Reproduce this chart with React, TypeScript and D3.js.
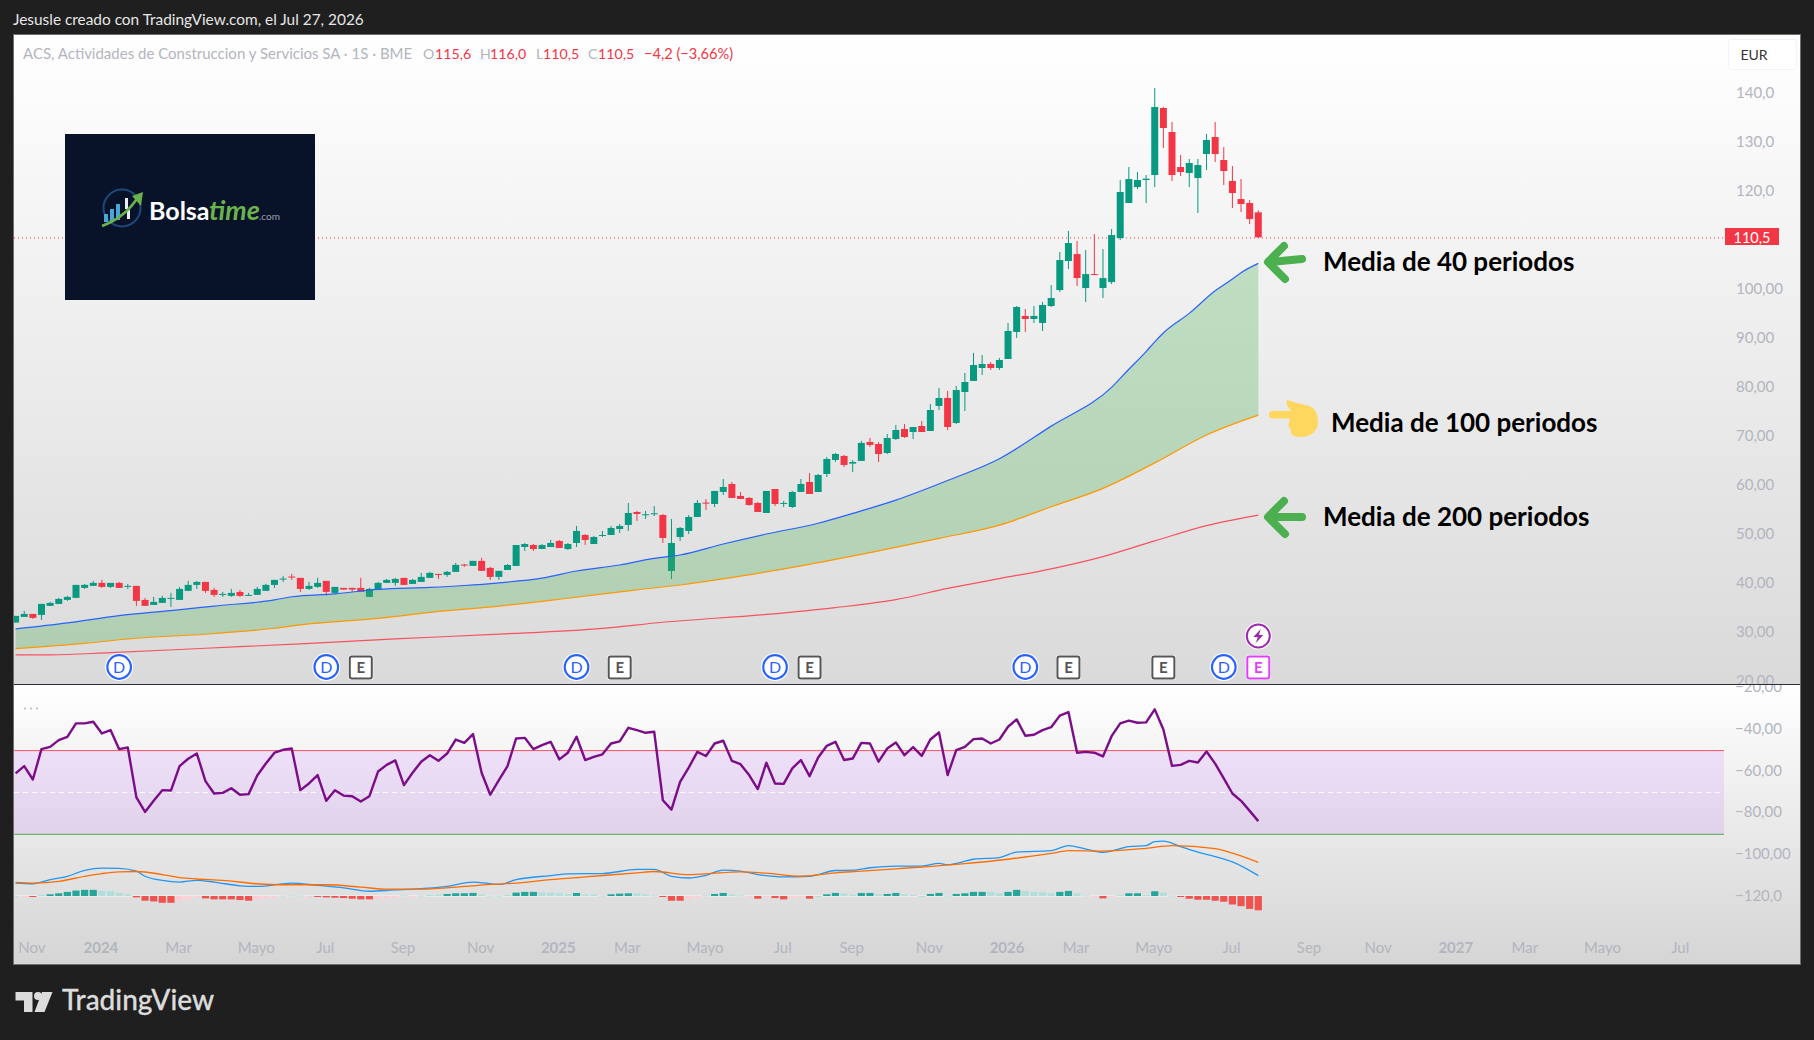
import React from "react";
import * as d3 from "d3";

const FONT = "Lato, 'Open Sans', sans-serif";

const candleOpen = [31.94,33.09,33.70,33.50,35.34,35.74,36.56,36.97,39.01,39.42,40.03,39.21,40.03,39.28,39.42,36.56,35.54,35.95,36.83,36.56,38.40,39.62,40.23,38.60,37.65,37.38,38.19,37.44,37.58,38.40,39.62,40.78,41.32,41.05,38.80,39.21,40.44,37.99,39.01,39.01,39.01,37.17,38.60,40.03,40.03,41.05,39.82,40.23,41.05,41.86,41.66,42.27,43.77,43.50,44.52,43.09,41.25,42.66,43.48,47.35,47.76,46.94,47.35,48.58,46.94,48.17,49.80,47.96,49.60,49.80,51.02,51.84,54.49,53.88,54.02,53.88,42.46,49.39,50.62,53.47,56.40,56.12,58.57,60.20,57.76,57.35,56.33,54.29,59.18,56.19,55.51,58.57,60.61,58.57,62.24,65.10,65.92,64.35,64.90,68.77,68.35,66.52,69.37,71.41,70.80,72.03,71.01,76.11,77.74,72.64,78.96,81.21,83.86,84.67,83.86,85.69,91.20,94.47,93.85,93.04,96.49,99.75,105.67,107.09,100.16,103.01,100.16,101.38,110.36,117.50,120.76,122.19,123.21,136.88,131.98,124.84,123.62,122.60,127.49,130.96,126.27,121.99,118.31,117.50,115.6];
const candleHigh = [33.30,34.32,33.70,35.74,36.15,36.97,37.38,39.62,39.82,40.44,40.64,40.03,40.23,39.82,39.42,36.97,37.17,37.38,37.99,39.21,40.44,40.44,40.23,39.01,38.19,38.80,38.60,37.99,39.21,39.82,40.64,41.46,41.86,41.05,40.23,41.05,40.44,39.21,39.01,39.01,41.05,39.01,40.23,40.84,41.05,41.05,40.84,42.07,42.27,41.86,42.48,44.11,43.90,44.52,45.13,43.29,42.48,43.88,47.76,48.17,47.96,47.96,48.78,48.78,48.17,51.64,50.00,49.60,50.62,51.64,52.04,56.33,54.70,54.70,55.72,54.08,53.06,51.43,53.88,56.94,57.14,58.78,61.22,60.61,58.57,57.55,56.53,58.78,59.18,56.74,58.78,61.22,62.45,62.24,65.71,66.53,66.12,65.10,68.98,69.59,68.76,70.39,72.23,72.43,71.82,73.05,76.51,79.78,79.17,80.19,82.84,86.92,86.51,85.08,85.90,93.04,96.51,95.89,96.51,97.32,100.77,107.50,111.79,109.75,107.91,111.17,108.11,112.19,122.19,124.84,123.82,123.21,140.96,137.08,134.02,127.29,126.47,126.47,131.57,134.02,128.92,125.05,122.39,118.11,116.0];
const candleLow = [31.94,33.09,32.68,32.48,35.34,35.74,36.36,36.97,38.80,39.42,39.01,39.01,39.01,38.80,35.34,35.34,35.54,35.95,35.13,36.56,38.40,38.80,37.99,37.17,37.17,37.17,37.17,37.38,37.58,38.40,39.01,40.23,40.64,38.19,38.60,39.01,37.38,37.78,38.67,38.19,38.19,37.17,38.60,40.03,39.42,39.62,39.82,40.23,41.05,40.84,41.25,42.27,43.29,43.50,42.48,40.64,40.64,42.66,43.48,46.54,46.54,46.94,47.35,47.15,46.74,47.35,47.76,47.96,49.39,49.80,50.21,50.62,52.66,53.06,53.68,48.17,40.82,48.58,50.00,53.47,54.90,55.51,57.96,57.35,57.14,55.72,54.49,54.29,55.72,55.51,55.31,58.57,58.16,58.57,61.63,64.69,63.67,62.65,64.90,67.75,64.68,66.31,69.17,69.58,69.37,70.80,71.01,75.29,71.21,72.43,75.09,81.21,82.43,83.45,83.45,85.69,89.98,91.20,93.04,91.41,96.28,99.34,104.03,100.57,97.30,102.81,98.12,100.97,109.95,117.50,120.35,117.50,120.76,128.72,121.99,123.01,120.76,115.46,124.23,125.86,121.17,116.48,115.66,113.21,110.5];
const candleClose = [33.30,33.70,32.89,35.74,35.95,36.76,37.17,39.62,39.62,40.03,39.21,40.03,39.01,39.42,36.36,35.34,36.15,36.97,36.97,38.80,39.62,40.23,38.40,37.58,37.78,37.99,37.38,37.58,38.80,39.62,40.64,40.91,41.18,38.80,39.42,40.03,38.19,39.21,38.67,38.67,38.19,38.80,40.03,40.64,40.84,39.62,40.64,41.25,42.07,41.73,42.27,43.70,43.56,44.52,42.48,41.25,42.48,43.68,47.76,47.96,46.94,47.76,48.17,47.15,47.96,50.62,48.78,49.39,49.80,51.23,51.64,54.29,54.08,54.02,54.22,49.19,48.17,51.23,53.47,56.33,56.19,58.78,59.59,57.35,57.14,55.92,54.49,58.78,56.12,56.33,58.57,60.20,58.16,62.04,65.30,66.32,64.08,64.69,68.57,68.16,66.31,69.58,71.21,69.78,71.82,70.80,75.29,77.74,71.82,79.37,81.00,84.47,84.67,83.86,85.49,91.41,96.30,93.85,94.47,96.71,98.12,105.87,109.34,102.20,103.01,102.81,102.20,110.97,119.74,122.39,122.19,122.46,137.08,132.80,123.21,123.82,125.66,125.25,130.35,127.49,124.03,119.54,117.29,114.23,110.5];

const ma40Bars = [0,6,12,18,23,30,32,37,42,48,52,56,61,65,70,74,77,82,87,93,97,102,108,114,120,127,129,131,132,133,136,139,141,142,144];
const ma40Vals = [30.64,31.87,33.36,34.38,35.3,36.56,37.2,37.8,38.7,39.1,39.5,40.05,41.0,42.46,43.68,45.04,45.72,47.96,50.0,52.2,54.2,56.9,60.9,65.35,72.0,79.9,83.6,87.2,89.2,91.0,95.0,99.6,102.0,103.3,105.2];
const ma100Bars = [0,8,14,22,30,33,42,48,56,64,72,77,84,91,99,107,114,120,126,132,138,144];
const ma100Vals = [26.63,27.7,28.74,29.56,30.78,31.46,32.8,34.0,35.3,36.9,38.6,39.6,41.4,43.5,46.2,49.1,51.8,55.55,59.3,64.5,70.2,74.25];
const ma200Bars = [0,4,11,22,33,44,56,68,75,87,95,102,108,114,120,126,132,138,144];
const ma200Vals = [25.34,25.34,25.8,26.7,27.6,28.6,29.58,30.76,32.0,33.6,35.0,36.6,38.9,40.9,42.9,45.4,48.6,51.7,53.85];

const williamsR = [-60.9,-57.4,-63.8,-49.3,-48.2,-45.0,-43.4,-37.0,-37.0,-36.2,-41.8,-40.2,-49.3,-48.5,-72.4,-79.3,-74.0,-68.9,-69.1,-57.4,-53.9,-51.4,-64.6,-70.5,-70.2,-68.0,-71.1,-70.8,-61.9,-56.2,-51.0,-49.6,-49.0,-68.9,-65.7,-61.7,-74.0,-68.9,-71.5,-71.8,-74.3,-71.8,-60.0,-56.8,-54.7,-66.5,-60.6,-55.3,-52.2,-54.9,-51.4,-44.7,-46.3,-42.1,-60.6,-71.1,-64.1,-57.4,-44.2,-43.9,-49.3,-47.4,-45.8,-54.2,-51.0,-43.4,-54.5,-53.0,-51.8,-46.6,-45.6,-39.1,-40.2,-41.5,-41.0,-73.7,-78.2,-64.9,-58.1,-50.6,-52.6,-46.6,-45.3,-54.9,-56.5,-61.7,-68.4,-55.8,-65.7,-65.9,-58.5,-54.5,-62.2,-53.3,-47.7,-45.8,-54.5,-53.8,-46.3,-46.6,-55.3,-49.0,-46.1,-52.2,-48.3,-52.5,-44.7,-41.3,-61.7,-49.8,-48.2,-44.5,-44.2,-46.6,-44.7,-38.6,-35.1,-42.9,-42.4,-40.2,-38.8,-33.3,-31.6,-51.0,-50.6,-51.0,-52.8,-43.1,-37.0,-35.7,-36.7,-36.5,-30.3,-39.9,-57.3,-56.8,-54.9,-55.7,-50.4,-56.2,-63.3,-70.5,-74.0,-78.8,-83.7];

const macdBars = [0,2,4,6,8,10,12,14,15,17,19,21,23,26,28,32,35,38,41,44,46,50,53,56,58,62,64,68,72,74,76,78,80,82,84,86,89,92,95,97,99,102,105,107,108,111,114,116,120,122,124,126,129,131,132,133,135,137,139,141,144];
const macdVals = [2.71,2.57,3.43,4.14,5.36,5.85,5.78,5.21,4.14,3.28,2.93,3.28,2.93,2.14,2.0,2.71,2.21,1.71,1.0,1.28,1.43,2.0,2.93,2.43,3.43,4.28,4.64,4.71,5.57,5.57,4.14,3.78,4.35,5.43,5.21,4.5,4.0,4.14,5.35,5.43,5.93,6.28,6.28,6.85,6.57,7.71,8.07,9.21,9.5,10.57,9.85,9.14,10.35,10.57,11.42,11.5,10.35,9.21,8.28,7.14,4.28];
const signalBars = [0,2,5,8,10,12,14,17,19,21,24,28,31,36,40,43,47,52,55,58,62,66,72,74,78,80,84,87,91,95,98,102,105,110,115,120,122,126,131,134,139,141,144];
const signalVals = [2.86,2.71,3.07,4.14,4.71,5.07,5.14,4.5,3.86,3.57,3.28,2.57,2.36,2.36,1.86,1.43,1.43,2.0,2.43,2.71,3.43,4.0,4.86,5.14,4.5,4.64,5.07,4.78,4.14,4.86,5.21,5.71,6.07,6.78,7.71,8.93,9.5,9.43,10.0,10.57,9.93,9.0,7.07];
const histVals = [0.02,-0.05,-0.2,0.21,0.36,0.57,0.86,1.14,1.29,1.29,1.07,1.07,0.64,0.36,-0.29,-1,-1.14,-1.43,-1.43,-1,-0.71,-0.21,-0.5,-0.71,-0.71,-0.71,-0.86,-1,-0.71,-0.43,-0.29,0.07,0.14,0.07,-0.14,-0.21,-0.29,-0.36,-0.43,-0.57,-0.71,-0.71,-0.57,-0.43,-0.29,0.14,-0.14,0.07,0.21,0.29,0.43,0.57,0.57,0.64,0.29,0.07,0.07,0.21,0.71,0.86,0.86,0.71,0.71,0.57,0.36,0.64,0.29,0.29,0.07,0.36,0.5,0.57,0.5,0.36,0.14,-0.21,-1,-1,-0.71,-0.29,0.14,0.43,0.64,0.29,0.14,-0.07,-0.57,-0.14,-0.43,-0.71,-0.43,-0.29,-0.57,0,0.36,0.64,0.5,0.29,0.64,0.64,0.36,0.43,0.64,0.36,0.21,0,0.43,0.64,0.07,0.43,0.57,0.86,0.86,0.86,0.57,0.86,1.29,1.07,0.86,0.79,0.57,0.86,1.07,0.57,0.14,-0.14,-0.5,-0.14,0.21,0.57,0.57,0.21,1,0.71,0.07,-0.21,-0.57,-0.79,-0.79,-1,-1.21,-1.79,-2.14,-2.71,-3];
const histStrong = [0,0,1,0,1,1,1,1,1,1,0,0,0,0,1,1,1,1,1,0,0,0,1,1,1,1,1,1,0,0,0,0,0,0,0,1,1,1,1,1,1,1,0,0,0,0,0,0,0,0,1,1,1,1,0,0,0,0,1,1,1,0,0,0,0,1,0,0,0,1,1,1,0,0,0,1,1,1,0,0,0,1,1,0,0,0,1,0,1,1,0,0,1,0,1,1,0,0,1,1,0,1,1,0,0,0,1,1,0,1,1,1,1,0,0,1,1,0,0,0,0,1,1,0,0,0,1,0,0,1,1,0,1,0,0,1,1,1,1,1,1,1,1,1,1];

const priceTicks = [140,130,120,110,100,90,80,70,60,50,40,30];
const priceTickLabels = ["140,0","130,0","120,0","","100,00","90,00","80,00","70,00","60,00","50,00","40,00","30,00"];
const oscTicks = [-40,-60,-80,-100,-120];
const oscTickLabels = ["−40,00","−60,00","−80,00","−100,00","−120,0"];
const timeBars = [2,10,19,28,36,45,54,63,71,80,89,97,106,115,123,132,141,150,158,167,175,184,193];
const timeLabels = ["Nov","2024","Mar","Mayo","Jul","Sep","Nov","2025","Mar","Mayo","Jul","Sep","Nov","2026","Mar","Mayo","Jul","Sep","Nov","2027","Mar","Mayo","Jul"];
const dividendBars = [12,36,65,88,117,140];
const earningsBars = [40,70,92,122,133];

const COL_UP = "#089981";
const COL_DOWN = "#f23645";
const PANE_L = 14, PANE_R = 1800, MAIN_T = 35, SEP_Y = 684, PANE_B = 964, BAND_R = 1724;

const x = d3.scaleLinear().domain([0, 144]).range([15.6, 1258.3]);
const yPrice = d3.scaleLinear().domain([140, 50]).range([92.7, 534]);
const yOsc = d3.scaleLinear().domain([-50, -90]).range([750.6, 834.3]);
const yMacd = d3.scaleLinear().domain([0, 3]).range([896, 881.7]);

function pts(bars: number[], vals: number[]): [number, number][] {
  return bars.map((b, i) => [b, vals[i]]);
}
const priceLine = d3.line<[number, number]>().x(d => x(d[0])).y(d => yPrice(d[1])).curve(d3.curveMonotoneX);
const macdLine = d3.line<[number, number]>().x(d => x(d[0])).y(d => yMacd(d[1])).curve(d3.curveMonotoneX);
const oscLine = d3.line<number>().x((_, i) => x(i)).y(d => yOsc(d));

const ma40Pts = pts(ma40Bars, ma40Vals);
const ma100Pts = pts(ma100Bars, ma100Vals);
const ma200Pts = pts(ma200Bars, ma200Vals);
const cloudPath =
  (priceLine(ma40Pts) as string) + "L" + (priceLine(ma100Pts.slice().reverse()) as string).slice(1) + "Z";

function Candles() {
  const bw = 7;
  return (
    <g>
      {candleOpen.map((o, i) => {
        const c = candleClose[i];
        const col = c >= o ? COL_UP : COL_DOWN;
        const top = yPrice(Math.max(o, c));
        const bot = yPrice(Math.min(o, c));
        return (
          <g key={i}>
            <line x1={x(i)} x2={x(i)} y1={yPrice(candleHigh[i])} y2={yPrice(candleLow[i])} stroke={col} strokeWidth={1} />
            <rect x={x(i) - bw / 2} width={bw} y={top} height={Math.max(1, bot - top)} fill={col} />
          </g>
        );
      })}
    </g>
  );
}

function Histogram() {
  const w = 7.2;
  return (
    <g>
      <line x1={PANE_L} x2={x(144) + 4} y1={yMacd(0)} y2={yMacd(0)} stroke="#fff" strokeWidth={1} opacity={0.8} />
      {histVals.map((v, i) => {
        const y0 = yMacd(0), y1 = yMacd(v);
        const strong = histStrong[i] === 1;
        const fill = v >= 0 ? (strong ? "#26a69a" : "#b2dfdb") : strong ? "#ef5350" : "#ffcdd2";
        return <rect key={i} x={x(i) - w / 2} width={w} y={Math.min(y0, y1)} height={Math.max(1, Math.abs(y1 - y0))} fill={fill} />;
      })}
    </g>
  );
}

function Dividend({ bar }: { bar: number }) {
  return (
    <g transform={`translate(${x(bar)},667)`}>
      <circle r={14} fill="#fff" />
      <circle r={11.8} fill="#fff" stroke="#2962ff" strokeWidth={2.2} />
      <text y={5.5} textAnchor="middle" fontFamily={FONT} fontSize={16} fill="#2962ff">D</text>
    </g>
  );
}
function Earnings({ bar, color }: { bar: number; color: string }) {
  return (
    <g transform={`translate(${x(bar)},667.5)`}>
      <rect x={-12.5} y={-12.5} width={25} height={25} rx={3} fill="#fff" />
      <rect x={-11} y={-11} width={22} height={22} rx={2} fill="#fff" stroke={color} strokeWidth={2} />
      <text y={5.5} textAnchor="middle" fontFamily={FONT} fontWeight={700} fontSize={15} fill={color}>E</text>
    </g>
  );
}

function Arrow({ y, dy }: { y: number; dy: number }) {
  return (
    <g stroke="#4caf50" strokeWidth={8} strokeLinecap="round" strokeLinejoin="round" fill="none">
      <path d={`M1302 ${y + dy}L1270 ${y}`} />
      <path d={`M1284 ${y - 16}L1268 ${y}L1285 ${y + 17}`} />
    </g>
  );
}

function Hand() {
  return (
    <g fill="#ffd75e">
      <rect x={1269} y={411} width={36} height={7.5} rx={3.7} />
      <path d="M1287 400 C1293 402 1300 404 1305 405 C1315 406 1318 414 1318 422 C1318 431 1311 437 1300 437 C1292 437 1290 433 1291 429 C1288 427 1288 423 1290 421 C1288 419 1290 416 1295 414 C1290 410 1285 405 1287 400Z" />
    </g>
  );
}

function Logo() {
  return (
    <g>
      <rect x={65} y={134} width={250} height={166} fill="#081229" />
      <circle cx={122} cy={208} r={18.5} fill="none" stroke="#1f4777" strokeWidth={2} />
      <rect x={104} y={214} width={4} height={8} fill="#4aa8d8" />
      <rect x={110} y={209} width={4} height={13} fill="#4aa8d8" />
      <rect x={116} y={204} width={4} height={16} fill="#4aa8d8" />
      <rect x={125} y={198} width={3} height={11} fill="#e8eef2" />
      <rect x={127} y={210} width={3} height={9} fill="#e8eef2" />
      <path d="M102 226 C118 220 130 210 138 197" fill="none" stroke="#6ab34c" strokeWidth={2.5} />
      <path d="M143 192 L141 206 L132 196 Z" fill="#6ab34c" />
      <text x={149} y={220} fontFamily={FONT} fontWeight={700} fontSize={25} fill="#fff">Bolsa</text>
      <text x={209} y={220} fontFamily={FONT} fontWeight={700} fontStyle="italic" fontSize={27} fill="#6ab34c">time</text>
      <text x={259} y={220} fontFamily={FONT} fontSize={10} fill="#9aa3ad">.com</text>
    </g>
  );
}

export default function App() {
  const lastY = yPrice(110.5) + 0.6;
  return (
    <svg width={1814} height={1040} style={{ position: "fixed", left: 0, top: 0, display: "block" }} fontFamily={FONT}>
      <defs>
        <linearGradient id="mainBg" x1="0" y1="0" x2="0" y2="1">
          <stop offset="0" stopColor="#ffffff" />
          <stop offset="1" stopColor="#dadada" />
        </linearGradient>
        <linearGradient id="lowBg" x1="0" y1="0" x2="0" y2="1">
          <stop offset="0" stopColor="#ffffff" />
          <stop offset="1" stopColor="#d5d5d5" />
        </linearGradient>
        <linearGradient id="bandBg" x1="0" y1="0" x2="0" y2="1">
          <stop offset="0" stopColor="#eee0f8" />
          <stop offset="1" stopColor="#e0d2ea" />
        </linearGradient>
        <clipPath id="mainClip"><rect x={PANE_L} y={MAIN_T} width={PANE_R - PANE_L} height={SEP_Y - MAIN_T} /></clipPath>
        <clipPath id="lowClip"><rect x={PANE_L} y={SEP_Y + 1} width={PANE_R - PANE_L} height={PANE_B - SEP_Y - 1} /></clipPath>
      </defs>
      <rect width={1814} height={1040} fill="#1f1f1f" />
      <text x={13} y={25} fontSize={15.4} fill="#e6e6e6">Jesusle creado con TradingView.com, el Jul 27, 2026</text>

      <rect x={PANE_L} y={MAIN_T} width={PANE_R - PANE_L} height={SEP_Y - MAIN_T} fill="url(#mainBg)" />
      <rect x={PANE_L} y={SEP_Y} width={PANE_R - PANE_L} height={PANE_B - SEP_Y} fill="url(#lowBg)" />
      <rect x={PANE_L - 0.5} y={MAIN_T - 0.5} width={PANE_R - PANE_L + 1} height={PANE_B - MAIN_T + 1} fill="none" stroke="#6e6e6e" strokeWidth={1} />

      <g clipPath="url(#mainClip)">
        <line x1={PANE_L} x2={1725} y1={lastY} y2={lastY} stroke={COL_DOWN} strokeWidth={1} strokeDasharray="1 3" />
        <Candles />
        <path d={cloudPath} fill="rgba(76,175,80,0.3)" />
        <path d={priceLine(ma200Pts) as string} fill="none" stroke="#f7525f" strokeWidth={1.2} />
        <path d={priceLine(ma100Pts) as string} fill="none" stroke="#ff9800" strokeWidth={1.2} />
        <path d={priceLine(ma40Pts) as string} fill="none" stroke="#2962ff" strokeWidth={1.2} />
        {dividendBars.map(b => <Dividend key={b} bar={b} />)}
        {earningsBars.map(b => <Earnings key={b} bar={b} color="#555555" />)}
        <Earnings bar={144} color="#e040fb" />
        <g transform={`translate(${x(144)},636)`}>
          <circle r={13.5} fill="#fff" />
          <circle r={11.5} fill="#fff" stroke="#9c27b0" strokeWidth={2} />
          <path d="M2.5 -7 L-5 1 L-0.5 1 L-2.5 7 L5 -1 L0.5 -1 Z" fill="#9c27b0" />
        </g>
      </g>

      <Logo />
      <g fontSize={14.2}>
        <text x={23} y={59} fontSize={15} fill="#b2b5be">ACS, Actividades de Construccion y Servicios SA · 1S · BME</text>
        <text x={423} y={59} fill="#b2b5be">O</text>
        <text x={435} y={59} fill={COL_DOWN}>115,6</text>
        <text x={480} y={59} fill="#b2b5be">H</text>
        <text x={490} y={59} fill={COL_DOWN}>116,0</text>
        <text x={536} y={59} fill="#b2b5be">L</text>
        <text x={543} y={59} fill={COL_DOWN}>110,5</text>
        <text x={588} y={59} fill="#b2b5be">C</text>
        <text x={598} y={59} fill={COL_DOWN}>110,5</text>
        <text x={644} y={59} fontSize={14.6} fill={COL_DOWN}>−4,2 (−3,66%)</text>
      </g>

      <rect x={1728.5} y={39.5} width={68} height={30} rx={3} fill="#fff" stroke="#f0f3fa" strokeWidth={1} />
      <text x={1754} y={60} textAnchor="middle" fontSize={14} fill="#333">EUR</text>

      <g clipPath="url(#mainClip)" fontSize={15} fill="#b2b5be">
        {priceTicks.map((t, i) => priceTickLabels[i] && (
          <text key={t} x={1736} y={yPrice(t) + 5}>{priceTickLabels[i]}</text>
        ))}
        <text x={1736} y={yPrice(20) + 5}>20,00</text>
      </g>
      <rect x={1725} y={228} width={54} height={17} fill={COL_DOWN} />
      <text x={1752} y={242.5} textAnchor="middle" fontSize={14.5} fill="#fff">110,5</text>

      <Arrow y={262} dy={-3} />
      <text x={1323} y={271} fontSize={26} fontWeight={700} fill="#000">Media de 40 periodos</text>
      <Hand />
      <text x={1331} y={432} fontSize={26} fontWeight={700} fill="#000">Media de 100 periodos</text>
      <Arrow y={517} dy={0} />
      <text x={1323} y={526} fontSize={26} fontWeight={700} fill="#000">Media de 200 periodos</text>

      {/* lower pane */}
      <line x1={PANE_L} x2={PANE_R} y1={SEP_Y + 0.5} y2={SEP_Y + 0.5} stroke="#2a2e39" strokeWidth={1.2} />
      <g clipPath="url(#lowClip)">
        <rect x={PANE_L} y={yOsc(-50)} width={BAND_R - PANE_L} height={yOsc(-90) - yOsc(-50)} fill="url(#bandBg)" />
        <line x1={PANE_L} x2={BAND_R} y1={yOsc(-50)} y2={yOsc(-50)} stroke="#f7525f" strokeWidth={1} />
        <line x1={PANE_L} x2={BAND_R} y1={yOsc(-70)} y2={yOsc(-70)} stroke="#fff" strokeWidth={1} strokeDasharray="5 4" />
        <line x1={PANE_L} x2={BAND_R} y1={yOsc(-90)} y2={yOsc(-90)} stroke="#4caf50" strokeWidth={1} />
        <path d={oscLine(williamsR) as string} fill="none" stroke="#7b0e88" strokeWidth={2.4} strokeLinejoin="round" />
        <Histogram />
        <path d={macdLine(pts(macdBars, macdVals)) as string} fill="none" stroke="#2196f3" strokeWidth={1.3} />
        <path d={macdLine(pts(signalBars, signalVals)) as string} fill="none" stroke="#ff6d00" strokeWidth={1.3} />
        <g fill="#b2b5be">
          <circle cx={25} cy={708.5} r={1} />
          <circle cx={31} cy={708.5} r={1} />
          <circle cx={37} cy={708.5} r={1} />
        </g>
        <g fontSize={15} fill="#b2b5be">
          <text x={1735} y={yOsc(-20) + 4}>−20,00</text>
          {oscTicks.map((t, i) => <text key={t} x={1735} y={yOsc(t) + 4}>{oscTickLabels[i]}</text>)}
        </g>
        <g fontSize={15} fill="#b2b5be" textAnchor="middle">
          {timeBars.map((b, i) => {
            const isYear = /^\d+$/.test(timeLabels[i]);
            return <text key={i} x={x(b) - 1} y={953} fontWeight={isYear ? 700 : 400}>{timeLabels[i]}</text>;
          })}
        </g>
      </g>

      {/* brand */}
      <g fill="#dcdcdc">
        <path d="M15.5 992 H32.5 V1012 H24 V1000.5 H15.5 Z" />
        <circle cx={38} cy={996} r={4} />
        <path d="M42 992 H52.5 L44.5 1012 H34.5 Z" />
      </g>
      <text x={62} y={1010} fontSize={28} fontWeight={500} fill="#dcdcdc" stroke="#dcdcdc" strokeWidth={0.3}>TradingView</text>
    </svg>
  );
}
